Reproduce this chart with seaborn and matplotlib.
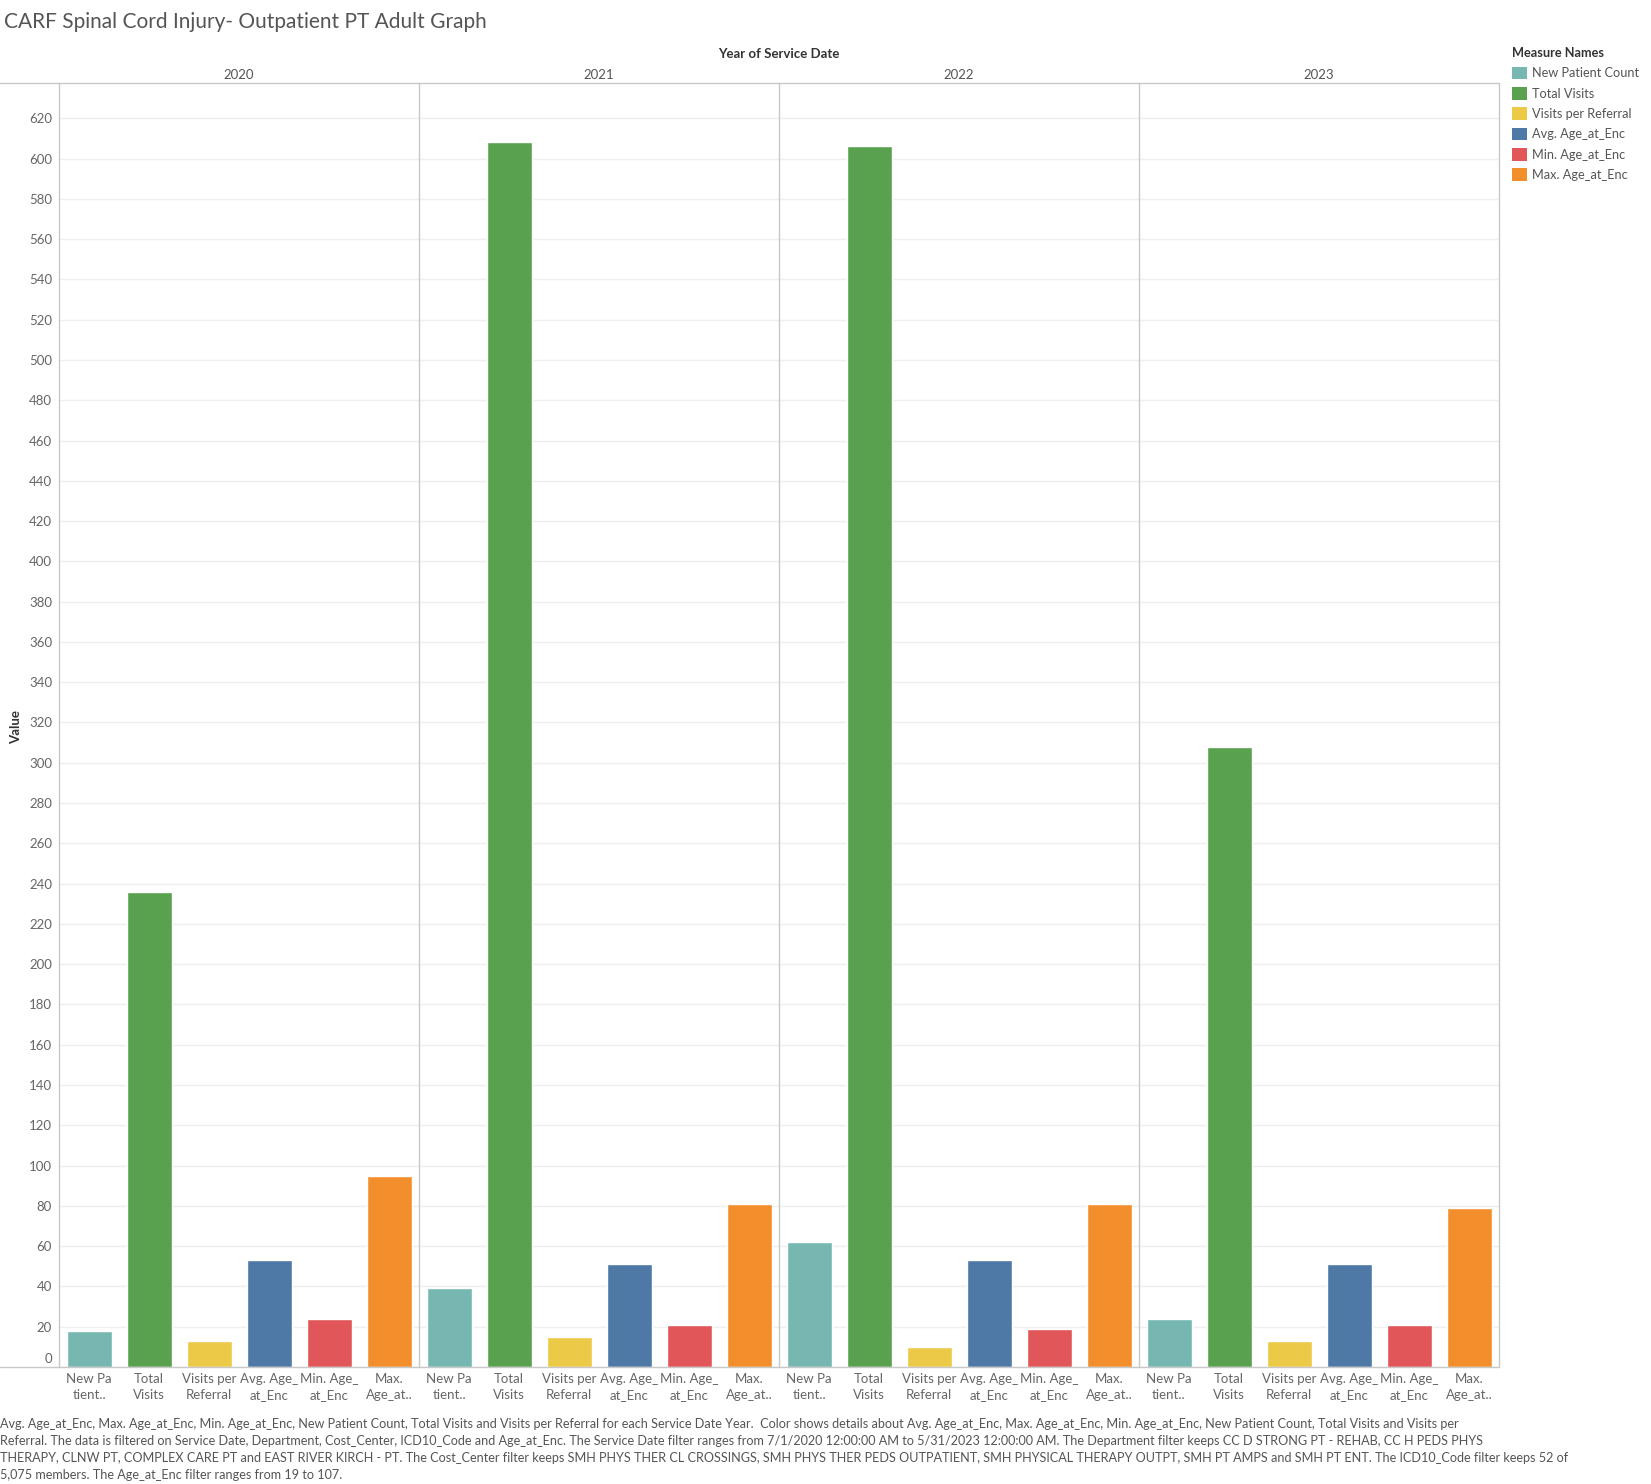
import matplotlib
matplotlib.use("Agg")
import matplotlib.pyplot as plt
import matplotlib.transforms as mtransforms
from matplotlib.lines import Line2D
from matplotlib.patches import Patch
import seaborn as sns
import pandas as pd

# ---------------- data ----------------
years = ["2020", "2021", "2022", "2023"]
measures = ["New Patient Count", "Total Visits", "Visits per Referral",
            "Avg. Age_at_Enc", "Min. Age_at_Enc", "Max. Age_at_Enc"]
tick_labels = ["New Pa\ntient..", "Total\nVisits", "Visits per\nReferral",
               "Avg. Age_\nat_Enc", "Min. Age_\nat_Enc", "Max.\nAge_at.."]
new_patient_count = [18, 39, 62, 24]
total_visits = [236, 608, 606, 308]
visits_per_referral = [13, 15, 10, 13]
avg_age = [53, 51, 53, 51]
min_age = [24, 21, 19, 21]
max_age = [95, 81, 81, 79]
colors = ["#76B7B2", "#59A14F", "#EDC948", "#4E79A7", "#E15759", "#F28E2B"]

title = "CARF Spinal Cord Injury- Outpatient PT Adult Graph"
footer = ("Avg. Age_at_Enc, Max. Age_at_Enc, Min. Age_at_Enc, New Patient Count, Total Visits and Visits per Referral for each Service Date Year.  Color shows details about Avg. Age_at_Enc, Max. Age_at_Enc, Min. Age_at_Enc, New Patient Count, Total Visits and Visits per\n"
          "Referral. The data is filtered on Service Date, Department, Cost_Center, ICD10_Code and Age_at_Enc. The Service Date filter ranges from 7/1/2020 12:00:00 AM to 5/31/2023 12:00:00 AM. The Department filter keeps CC D STRONG PT - REHAB, CC H PEDS PHYS\n"
          "THERAPY, CLNW PT, COMPLEX CARE PT and EAST RIVER KIRCH - PT. The Cost_Center filter keeps SMH PHYS THER CL CROSSINGS, SMH PHYS THER PEDS OUTPATIENT, SMH PHYSICAL THERAPY OUTPT, SMH PT AMPS and SMH PT ENT. The ICD10_Code filter keeps 52 of\n"
          "5,075 members. The Age_at_Enc filter ranges from 19 to 107.")

series = [new_patient_count, total_visits, visits_per_referral, avg_age, min_age, max_age]
rows = []
for yi, yr in enumerate(years):
    for m, s in zip(measures, series):
        rows.append({"year": yr, "measure": m, "value": s[yi]})
df = pd.DataFrame(rows)

# ---------------- style ----------------
sns.set_theme(style="white")
FAM = ["Lato", "DejaVu Sans"]
plt.rcParams["font.family"] = FAM

W, H = 1651, 1484
fig = plt.figure(figsize=(W / 100, H / 100), dpi=100)
fig.patch.set_facecolor("white")

def fx(px):
    return px / W

def fy(py):
    return 1 - py / H

left, right, top, bottom = 59, 1499, 83, 1367
panel_w = (right - left) / len(years)
ymax = 637.5
palette = dict(zip(measures, colors))
grid_c = "#efefef"
sep_c = "#c8c8c8"
txt_c = "#666666"

axes = []
for i, yr in enumerate(years):
    ax = fig.add_axes([fx(left + i * panel_w), fy(bottom), panel_w / W, (bottom - top) / H])
    sub = df[df["year"] == yr]
    sns.barplot(data=sub, x="measure", y="value", hue="measure", order=measures,
                hue_order=measures, palette=palette, width=0.75, legend=False,
                ax=ax, saturation=1)
    ax.set_ylim(0, ymax)
    ax.set_xlim(-0.5, 5.5)
    ax.set_yticks(range(0, 621, 20))
    ax.yaxis.grid(True, color=grid_c, linewidth=1)
    ax.set_axisbelow(True)
    ax.set_xlabel("")
    ax.set_ylabel("")
    ax.set_xticks(range(len(measures)))
    ax.set_xticklabels(tick_labels, fontsize=9.5, color=txt_c, linespacing=1.45)
    ax.tick_params(axis="x", length=0, pad=4)
    ax.tick_params(axis="y", length=0, pad=5, labelsize=9.5, labelcolor=txt_c)
    for s in ["top", "right", "bottom"]:
        ax.spines[s].set_visible(False)
    ax.spines["left"].set_color(sep_c)
    ax.spines["left"].set_linewidth(1)
    if i > 0:
        ax.set_yticklabels([])
    else:
        # Tableau nudges the zero label upward
        lbls = ax.get_yticklabels()
        off = mtransforms.ScaledTranslation(0, 9 / 100, fig.dpi_scale_trans)
        lbls[0].set_transform(lbls[0].get_transform() + off)
    ax.set_title(yr, fontsize=9.5, color="#555555", pad=3)
    axes.append(ax)

# frame lines (header bottom, baseline, right border)
fig.add_artist(Line2D([0, fx(right)], [fy(top), fy(top)], color=sep_c, lw=1))
fig.add_artist(Line2D([0, fx(right)], [fy(bottom), fy(bottom)], color=sep_c, lw=1))
fig.add_artist(Line2D([fx(right), fx(right)], [fy(top), fy(bottom)], color=sep_c, lw=1))

# texts
fig.text(fx(4), fy(22), title, fontsize=15, color="#555555", va="center", ha="left")
fig.text(fx((left + right) / 2), fy(54), "Year of Service Date", fontsize=9.5,
         fontweight="bold", color="#333333", ha="center", va="center")
fig.text(fx(16), fy(727), "Value", fontsize=9.5, fontweight="bold", color="#333333",
         rotation=90, ha="center", va="center")
fig.text(fx(0), fy(1418), footer, fontsize=9.1, color="#555555", ha="left", va="top",
         linespacing=1.5)

# legend
handles = [Patch(facecolor=c, edgecolor="none") for c in colors]
leg = fig.legend(handles, measures, title="Measure Names", loc="upper left",
                 bbox_to_anchor=(fx(1512), fy(47)), frameon=False, fontsize=9.2,
                 title_fontsize=9.2, handlelength=1.15, handleheight=1.15,
                 handletextpad=0.45, labelspacing=0.6, borderaxespad=0,
                 borderpad=0, alignment="left")
leg.get_title().set_fontweight("bold")
leg.get_title().set_color("#333333")
for t in leg.get_texts():
    t.set_color("#555555")

fig.savefig("out.png", dpi=100, facecolor="white")
